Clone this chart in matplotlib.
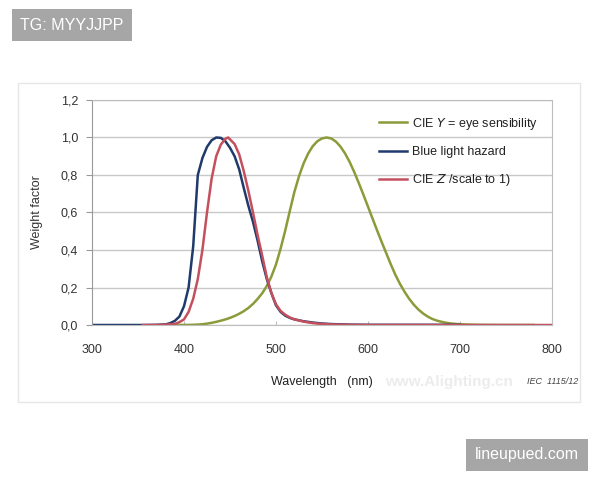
import numpy as np
import matplotlib
matplotlib.use('Agg')
import matplotlib.pyplot as plt
from matplotlib.patches import Rectangle
from matplotlib.ticker import FuncFormatter

plt.rcParams['font.family'] = ['Liberation Sans', 'DejaVu Sans']

# CIE Y (eye sensibility)
wl_y = [380, 385, 390, 395, 400, 405, 410, 415, 420, 425, 430, 435, 440, 445,
        450, 455, 460, 465, 470, 475, 480, 485, 490, 495, 500, 505, 510, 515,
        520, 525, 530, 535, 540, 545, 550, 555, 560, 565, 570, 575, 580, 585,
        590, 595, 600, 605, 610, 615, 620, 625, 630, 635, 640, 645, 650, 655,
        660, 665, 670, 675, 680, 685, 690, 695, 700, 710, 720, 730, 740, 750,
        760, 770, 780]
cie_y = [0.0000, 0.0001, 0.0001, 0.0002, 0.0004, 0.0006, 0.0012, 0.0022,
         0.0040, 0.0073, 0.0116, 0.0168, 0.0230, 0.0298, 0.0380, 0.0480,
         0.0600, 0.0739, 0.0910, 0.1126, 0.1390, 0.1693, 0.2080, 0.2586,
         0.3230, 0.4073, 0.5030, 0.6082, 0.7100, 0.7932, 0.8620, 0.9149,
         0.9540, 0.9803, 0.9950, 1.0000, 0.9950, 0.9786, 0.9520, 0.9154,
         0.8700, 0.8163, 0.7570, 0.6949, 0.6310, 0.5668, 0.5030, 0.4412,
         0.3810, 0.3210, 0.2650, 0.2170, 0.1750, 0.1382, 0.1070, 0.0816,
         0.0610, 0.0446, 0.0320, 0.0232, 0.0170, 0.0119, 0.0082, 0.0057,
         0.0041, 0.0021, 0.0010, 0.0005, 0.0002, 0.0001, 0.0001, 0.0000,
         0.0000]

# Blue light hazard
wl_b = [300, 320, 340, 360, 370, 380, 385, 390, 395, 400, 405, 410, 415, 420,
        425, 430, 435, 440, 445, 450, 455, 460, 465, 470, 475, 480, 485, 490,
        495, 500, 505, 510, 515, 520, 530, 540, 550, 560, 580, 600, 650, 700]
blue = [0.0, 0.0, 0.0, 0.0, 0.001, 0.003, 0.010, 0.022, 0.045, 0.10, 0.20,
        0.42, 0.80, 0.89, 0.95, 0.985, 1.0, 0.998, 0.98, 0.945, 0.90, 0.83,
        0.73, 0.635, 0.55, 0.45, 0.34, 0.245, 0.17, 0.105, 0.07, 0.05, 0.038,
        0.03, 0.02, 0.013, 0.008, 0.005, 0.002, 0.001, 0.001, 0.001]

# CIE Z scaled to 1
wl_z = [355, 370, 380, 390, 395, 400, 405, 410, 415, 420, 425, 430, 435, 440,
        445, 448, 450, 455, 460, 465, 470, 475, 480, 485, 490, 495, 500, 505,
        510, 515, 520, 530, 540, 550, 560, 580, 600, 700, 800]
cie_z = [0.0, 0.0, 0.002, 0.006, 0.015, 0.03, 0.07, 0.14, 0.245, 0.40, 0.60,
         0.78, 0.90, 0.962, 0.993, 1.0, 0.99, 0.965, 0.91, 0.82, 0.715, 0.60,
         0.48, 0.37, 0.255, 0.17, 0.11, 0.075, 0.055, 0.04, 0.03, 0.018,
         0.010, 0.006, 0.003, 0.001, 0.0, 0.0, 0.0]

y_ticks = [0.0, 0.2, 0.4, 0.6, 0.8, 1.0, 1.2]
x_ticks = [300, 400, 500, 600, 700, 800]

fig = plt.figure(figsize=(6, 4.8), dpi=100)
ax = fig.add_axes([92 / 600, 155 / 480, 460 / 600, 225 / 480])

# light outer frame of the chart
fig.patches.append(Rectangle((18 / 600, 78 / 480), 562 / 600, 319 / 480,
                             transform=fig.transFigure, fill=False,
                             edgecolor='#e6e6e6', linewidth=1))

ax.plot(wl_y, cie_y, color='#8b9b3a', linewidth=1.8,
        label=r'CIE $\it{Y}$ = eye sensibility')
ax.plot(wl_b, blue, color='#1f3a6b', linewidth=1.8, label='Blue light hazard')
ax.plot(wl_z, cie_z, color='#c4505e', linewidth=1.8,
        label=r'CIE $\it{Z}$ /scale to 1)')

ax.set_xlim(300, 800)
ax.set_ylim(0, 1.2)
ax.set_xticks(x_ticks)
ax.set_yticks(y_ticks)
ax.yaxis.set_major_formatter(FuncFormatter(lambda v, p: f'{v:.1f}'.replace('.', ',')))
ax.grid(axis='y', color='#c8c8c8', linewidth=1)
ax.set_axisbelow(True)
for s in ax.spines.values():
    s.set_color('#bdbdbd')
ax.spines['left'].set_color('#9a9a9a')
ax.tick_params(axis='y', length=4, color='#9a9a9a', labelsize=9,
               labelcolor='#333333', pad=6)
ax.tick_params(axis='x', direction='in', length=3, color='#bdbdbd',
               labelsize=9, labelcolor='#333333', pad=14)

ax.set_ylabel('Weight factor', fontsize=9, color='#333333', labelpad=13)
ax.set_xlabel('Wavelength   (nm)', fontsize=9, color='#222222', labelpad=14)

leg = ax.legend(loc='upper left', bbox_to_anchor=(0.6, 0.98), frameon=False,
                fontsize=9, handlelength=2.2, labelspacing=1.15,
                handletextpad=0.4)
for t in leg.get_texts():
    t.set_color('#222222')

# watermark / source texts
fig.text(385 / 600, 1 - 382 / 480, 'www.Alighting.cn', fontsize=11,
         fontweight='bold', color='#ececec', ha='left', va='center')
fig.text(527 / 600, 1 - 381 / 480, 'IEC  1115/12', fontsize=6.5,
         style='italic', color='#444444', ha='left', va='center')

# badges
fig.text(72 / 600, 1 - 25 / 480, 'TG: MYYJJPP', fontsize=11.5, color='white',
         ha='center', va='center',
         bbox=dict(boxstyle='square,pad=0.55', facecolor='#a6a6a6',
                   edgecolor='none'))
fig.text(527 / 600, 1 - 455 / 480, 'lineupued.com', fontsize=11.5,
         color='white', ha='center', va='center',
         bbox=dict(boxstyle='square,pad=0.55', facecolor='#a6a6a6',
                   edgecolor='none'))

fig.savefig('out.png', dpi=100)
